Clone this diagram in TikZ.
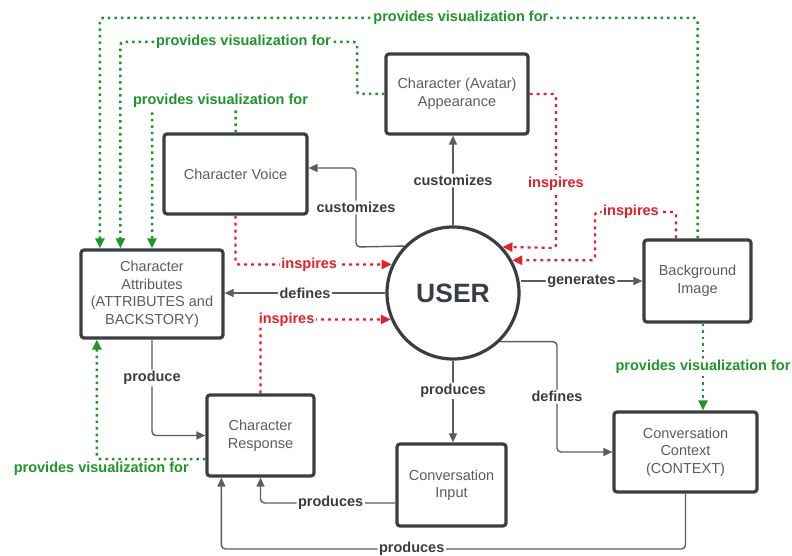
\documentclass[tikz,border=0pt]{standalone}
\usepackage{fontspec}
\setmainfont{Liberation Sans}
\usepackage{tikz}
\usetikzlibrary{arrows.meta, calc}
\definecolor{boxgray}{RGB}{57,62,70}
\definecolor{textgray}{RGB}{88,93,101}
\definecolor{linkgray}{RGB}{88,94,102}
\definecolor{labelgray}{RGB}{58,62,68}
\definecolor{visgreen}{RGB}{30,150,42}
\definecolor{inspred}{RGB}{232,30,40}

\begin{document}
\begin{tikzpicture}[x=1pt, y=-1pt,
    box/.style={draw=boxgray, line width=3.2pt, rounded corners=3pt, fill=white,
      align=center, text=textgray, font=\fontsize{14.5}{17.5}\selectfont, inner sep=0pt},
    flow/.style={draw=linkgray, line width=1.4pt, rounded corners=4pt,
      -{Triangle[length=9pt,width=8pt]}},
    vis/.style={draw=visgreen, line width=2.5pt, dash pattern=on 2.5pt off 4pt,
      rounded corners=3pt, -{Triangle[length=10pt,width=9pt]}},
    insp/.style={draw=inspred, line width=2.2pt, dash pattern=on 3pt off 4pt,
      rounded corners=3pt, -{Triangle[length=10pt,width=9pt]}},
    lbl/.style={fill=white, inner sep=1.5pt, text=labelgray,
      font=\fontsize{14.5}{17}\selectfont\bfseries},
    glbl/.style={lbl, text=visgreen},
    rlbl/.style={lbl, text=inspred}]
  \fill[white] (0,0) rectangle (792,556);
  \useasboundingbox (0,0) rectangle (792,556);

  % entities
  \node[draw=boxgray, line width=3.2pt, circle, minimum size=132pt, fill=white,
    text=boxgray, font=\fontsize{26.5}{30}\selectfont\bfseries] (user) at (453,293) {USER};
  \node[box, minimum width=142pt, minimum height=80pt] (appear) at (457,94) {Character (Avatar)\\Appearance};
  \node[box, minimum width=143pt, minimum height=80pt] (voice) at (235.5,174) {Character Voice};
  \node[box, minimum width=142pt, minimum height=88pt] (attr) at (152,294) {Character\\Attributes\\(ATTRIBUTES and\\BACKSTORY)};
  \node[box, minimum width=107pt, minimum height=82pt] (bg) at (697.5,281) {Background\\Image};
  \node[box, minimum width=107pt, minimum height=81pt] (resp) at (260.5,435.5) {Character\\Response};
  \node[box, minimum width=109pt, minimum height=82pt] (input) at (451.5,485) {Conversation\\Input};
  \node[box, minimum width=143pt, minimum height=80pt] (context) at (685.5,452) {Conversation\\Context\\(CONTEXT)};

  % what the user does
  \draw[flow] (user.north) -- node[lbl]{customizes} (user.north |- appear.south);
  \draw[flow] (user.136) -- (356,247) -- node[lbl]{customizes} (356,168) -- (voice.east |- 0,168);
  \draw[flow] (user.west) -- node[lbl]{defines} (user.west -| attr.east);
  \draw[flow] (bg.west -| user.east) -- node[lbl]{generates} (bg.west);
  \draw[flow] (user.south) -- node[lbl, pos=0.37]{produces} (user.south |- input.north);
  \draw[flow] (user.-46) -- (user.-46 -| 557,0) -- node[lbl]{defines} (context.west -| 557,0) -- (context.west);

  % responses
  \draw[flow] (attr.south) |- node[lbl, pos=0.2]{produce} (resp.west);
  \draw[flow] ($(input.west)+(0,18)$) -| node[lbl, pos=0.24]{produces} (resp.south);
  \draw[flow] (context.south) -- (context.south |- 0,549) -| node[lbl, pos=0.295]{produces} ($(resp.south west)+(16,0)$);

  % visualization links
  \draw[vis] (bg.south -| 703,0) -- node[glbl]{provides visualization for} (context.north -| 703,0);
  \draw[vis] (bg.north) -- (bg.north |- 0,18) -| node[glbl, pos=0.198]{provides visualization for} ($(attr.north west)+(20.5,0)$);
  \draw[vis] (appear.west) -| (357,42) -| node[glbl, pos=0.24]{provides visualization for} ($(attr.north west)+(41,0)$);
  \draw[vis] (voice.north) -- (voice.north |- 0,101) -| node[glbl, pos=0.09]{provides visualization for} (attr.north);
  \draw[vis] (resp.west |- 0,459) -| node[glbl, fill=none, below, pos=0.48]{provides visualization for} ($(attr.south west)+(17.5,0)$);

  % inspiration links
  \draw[insp] (voice.south) |- node[rlbl, pos=0.736]{inspires} (user.155);
  \draw[insp] (resp.north) |- node[rlbl, pos=0.6]{inspires} (user.203);
  \draw[insp] (appear.east) -- (appear.east -| 556,0) -- node[rlbl, pos=0.58]{inspires} (556,248) -- (user.43);
  \draw[insp] (bg.north -| 676,0) |- node[rlbl, pos=0.778]{inspires} (595,212) |- (user.29);
\end{tikzpicture}
\end{document}
